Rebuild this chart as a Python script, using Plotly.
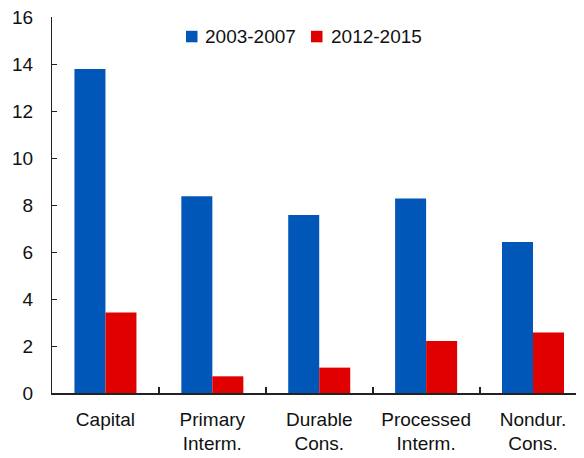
import plotly.graph_objects as go

categories = ["Capital", "Primary<br>Interm.", "Durable<br>Cons.", "Processed<br>Interm.", "Nondur.<br>Cons."]
series_names = ["2003-2007", "2012-2015"]
series_2003_2007 = [13.79, 8.37, 7.57, 8.28, 6.43]
series_2012_2015 = [3.43, 0.71, 1.08, 2.21, 2.57]
y_ticks = [0, 2, 4, 6, 8, 10, 12, 14, 16]

BLUE = "#0057B7"
RED = "#E00000"
FONT = "Liberation Sans, Arial, sans-serif"
FS = 19

W, H = 576, 450
ML, MR, MT, MB = 44, 0, 9, 65
PW, PH = W - ML - MR, H - MT - MB


def px(x):
    return (x - ML) / PW


def py(y):
    return 1 - (y - MT) / PH


fig = go.Figure()
fig.add_trace(go.Bar(x=categories, y=series_2003_2007, name=series_names[0],
                     marker=dict(color=BLUE, line=dict(width=0))))
fig.add_trace(go.Bar(x=categories, y=series_2012_2015, name=series_names[1],
                     marker=dict(color=RED, line=dict(width=0))))

# manual legend (squares + text)
legend_items = [(series_names[0], BLUE, 178, 195), (series_names[1], RED, 303, 321)]
shapes = []
annotations = []
for name, col, sq_x, tx_x in legend_items:
    shapes.append(dict(type="rect", xref="paper", yref="paper",
                       x0=px(sq_x), x1=px(sq_x + 11.5), y0=py(34.3), y1=py(22.8),
                       fillcolor=col, line=dict(width=0)))
    annotations.append(dict(text=name, xref="paper", yref="paper", x=px(tx_x), y=py(28.7),
                            xanchor="left", yanchor="middle", showarrow=False,
                            font=dict(size=FS, family=FONT, color="#111")))

fig.update_layout(
    width=W, height=H,
    margin=dict(l=ML, r=MR, t=MT, b=MB, autoexpand=False),
    paper_bgcolor="white", plot_bgcolor="white",
    font=dict(family=FONT, size=FS, color="#111"),
    barmode="group", bargap=0.42, bargroupgap=0,
    showlegend=False,
    shapes=shapes, annotations=annotations,
    xaxis=dict(type="category", range=[-0.5, 4.477], showline=True, linecolor="#222",
               linewidth=1.5, ticks="inside", tickson="boundaries", ticklen=6,
               tickcolor="#222", tickwidth=1.5, showgrid=False, zeroline=False,
               automargin=False, ticklabelstandoff=8, tickangle=0),
    yaxis=dict(range=[0, 16], tickvals=y_ticks, showline=True, linecolor="#222",
               linewidth=1, ticks="inside", ticklen=5, tickcolor="#222",
               showgrid=False, zeroline=False, automargin=False, ticklabelstandoff=14,
               ticklabeloverflow="allow"),
)

fig.write_html("out.html")
